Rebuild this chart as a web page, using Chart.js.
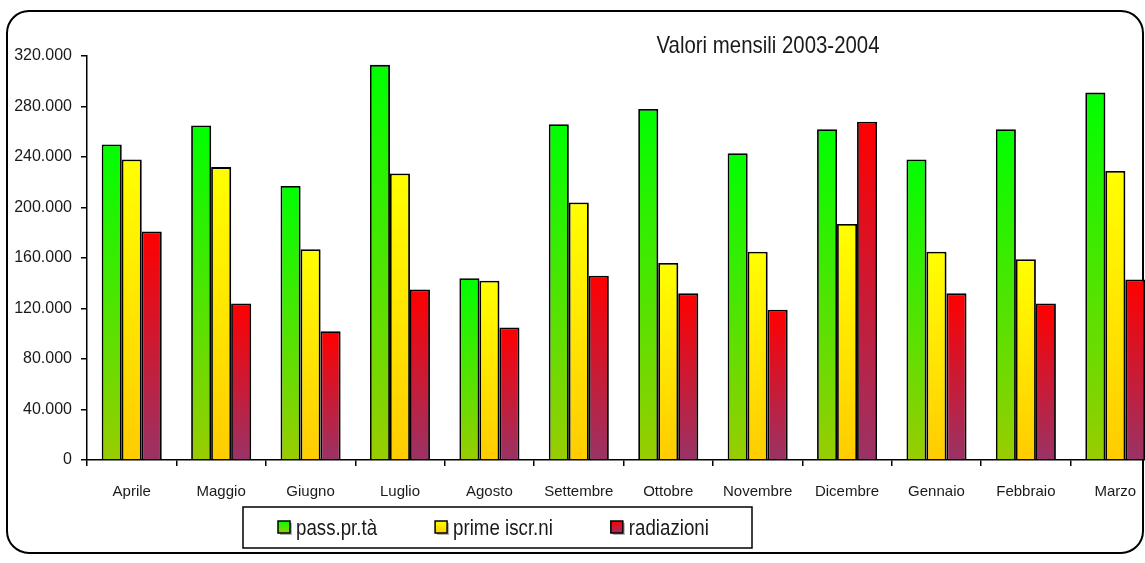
<!DOCTYPE html>
<html>
<head>
<meta charset="utf-8">
<title>Valori mensili 2003-2004</title>
<script src="https://cdn.jsdelivr.net/npm/chart.js@4.4.1/dist/chart.umd.min.js"></script>
<style>
  html, body { margin: 0; padding: 0; background: #fff; overflow: hidden; }
  #wrap { position: relative; width: 1160px; height: 563px; }
</style>
</head>
<body>
<div id="wrap"><canvas id="chart"></canvas></div>
<script>
// Data
const months = ['Aprile', 'Maggio', 'Giugno', 'Luglio', 'Agosto', 'Settembre',
    'Ottobre', 'Novembre', 'Dicembre', 'Gennaio', 'Febbraio', 'Marzo'];
const passaggi = [250000, 265000, 217000, 313000, 144000, 266000, 278000, 243000, 262000, 238000, 262000, 291000];
const primeIscrizioni = [238000, 232000, 167000, 227000, 142000, 204000, 156000, 165000, 187000, 165000, 159000, 229000];
const radiazioni = [181000, 124000, 102000, 135000, 105000, 146000, 132000, 119000, 268000, 132000, 124000, 143000];
const seriesLabels = ['pass.pr.tà', 'prime iscr.ni', 'radiazioni'];
const yTicks = { min: 0, max: 320000, step: 40000 };
const chartTitle = 'Valori mensili 2003-2004';

const FONT = "'Liberation Sans', Arial, sans-serif";
const NARROW = 0.85; // horizontal squeeze to mimic a narrow face

// colours: [top, bottom] of each bar's vertical gradient
const fills = [
    ['#00ff00', '#99cc00'],
    ['#ffff00', '#ffcc00'],
    ['#ff0000', '#993366'],
];

// Italian thousands separator
function formatIt(value) {
    return value.toString().replace(/\B(?=(\d{3})+(?!\d))/g, '.');
}

// gradient that runs from the top of each bar to the baseline
function barGradient(colors) {
    return function (context) {
        const chart = context.chart;
        const yScale = chart.scales.y;
        if (!chart.chartArea || !yScale || context.raw == null) return colors[0];
        const yTop = yScale.getPixelForValue(context.raw);
        const yBase = yScale.getPixelForValue(0);
        const g = chart.ctx.createLinearGradient(0, yTop, 0, yBase);
        g.addColorStop(0, colors[0]);
        g.addColorStop(1, colors[1]);
        return g;
    };
}

// text drawn slightly condensed
function narrowText(ctx, text, x, y) {
    ctx.save();
    ctx.translate(x, y);
    ctx.scale(NARROW, 1);
    ctx.fillText(text, 0, 0);
    ctx.restore();
}

// rounded outer frame
const framePlugin = {
    id: 'frame',
    beforeDraw(chart) {
        const ctx = chart.ctx;
        ctx.save();
        ctx.fillStyle = '#fff';
        ctx.fillRect(0, 0, chart.width, chart.height);
        ctx.beginPath();
        ctx.roundRect(7, 11, 1136, 542, 22);
        ctx.lineWidth = 2;
        ctx.strokeStyle = '#000';
        ctx.stroke();
        ctx.restore();
    },
};

// soft shadow on the bars
const shadowPlugin = {
    id: 'barShadow',
    beforeDatasetsDraw(chart) {
        const ctx = chart.ctx;
        ctx.save();
        ctx.shadowColor = 'rgba(0,0,0,0.25)';
        ctx.shadowOffsetX = 2;
        ctx.shadowOffsetY = 1;
        ctx.shadowBlur = 0;
    },
    afterDatasetsDraw(chart) {
        chart.ctx.restore();
    },
};

// title placed over the upper right of the plot
const titlePlugin = {
    id: 'plotTitle',
    afterDraw(chart) {
        const ctx = chart.ctx;
        ctx.save();
        ctx.font = '24px ' + FONT;
        ctx.fillStyle = '#1a1a1a';
        ctx.textAlign = 'center';
        ctx.textBaseline = 'alphabetic';
        narrowText(ctx, chartTitle, 768, 53);
        ctx.restore();
    },
};

// boxed legend below the axis
const legendPlugin = {
    id: 'boxedLegend',
    afterDraw(chart) {
        const ctx = chart.ctx;
        const left = 243, top = 507, w = 509, h = 41;
        const box = 12, gap = 6, spacing = 58;
        const midY = top + 22;
        ctx.save();
        ctx.lineWidth = 1.5;
        ctx.strokeStyle = '#000';
        ctx.strokeRect(left, top, w, h);
        ctx.font = '22px ' + FONT;
        ctx.textBaseline = 'middle';
        let x = left + 35;
        chart.data.datasets.forEach((ds, i) => {
            const colors = fills[i];
            const by = midY - box / 2 - 2;
            ctx.fillStyle = 'rgba(0,0,0,0.3)';
            ctx.fillRect(x + 2, by + 2, box, box);
            const g = ctx.createLinearGradient(0, by, 0, by + box);
            g.addColorStop(0, colors[0]);
            g.addColorStop(1, colors[1]);
            ctx.fillStyle = g;
            ctx.fillRect(x, by, box, box);
            ctx.lineWidth = 1.5;
            ctx.strokeStyle = '#000';
            ctx.strokeRect(x, by, box, box);
            ctx.fillStyle = '#1a1a1a';
            narrowText(ctx, ds.label, x + box + gap, midY);
            x += box + gap + ctx.measureText(ds.label).width * NARROW + spacing;
        });
        ctx.restore();
    },
};

const seriesValues = [passaggi, primeIscrizioni, radiazioni];

new Chart(document.getElementById('chart'), {
    type: 'bar',
    data: {
        labels: months,
        datasets: seriesValues.map((values, i) => ({
            label: seriesLabels[i],
            data: values,
            backgroundColor: barGradient(fills[i]),
            borderColor: '#000',
            borderWidth: 1.8,
            categoryPercentage: 0.671,
            barPercentage: 1.0,
        })),
    },
    options: {
        responsive: true,
        maintainAspectRatio: false,
        animation: false,
        devicePixelRatio: 1,
        layout: { padding: { left: 7, top: 56, right: 0, bottom: 63 } },
        plugins: {
            legend: { display: false },
            title: { display: false },
            tooltip: { enabled: false },
        },
        scales: {
            x: {
                border: { color: '#000', width: 1.5 },
                grid: { drawOnChartArea: false, drawTicks: true, tickLength: 6, color: '#000', lineWidth: 1.5 },
                ticks: { color: '#1a1a1a', font: { family: FONT, size: 15 }, padding: 17, maxRotation: 0, autoSkip: false },
                afterFit(scale) { scale.height = 40; },
            },
            y: {
                min: yTicks.min,
                max: yTicks.max,
                border: { color: '#000', width: 1.5 },
                grid: { drawOnChartArea: false, drawTicks: true, tickLength: 6, color: '#000', lineWidth: 1.5 },
                ticks: {
                    stepSize: yTicks.step,
                    color: '#1a1a1a',
                    font: { family: FONT, size: 16 },
                    padding: 9,
                    callback: value => formatIt(value),
                },
                afterFit(scale) { scale.width = 80; },
            },
        },
    },
    plugins: [framePlugin, shadowPlugin, titlePlugin, legendPlugin],
});
</script>
</body>
</html>
